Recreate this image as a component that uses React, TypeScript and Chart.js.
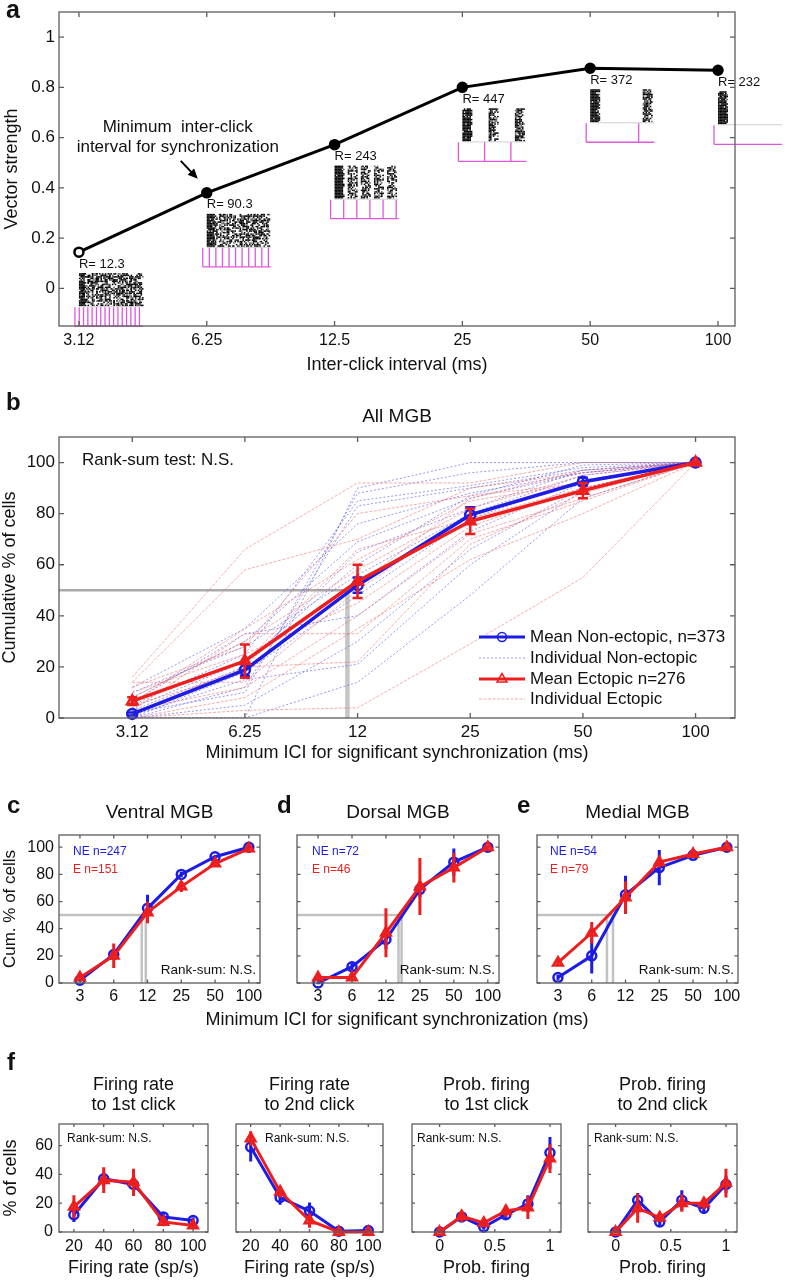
import { useEffect, useRef } from 'react';
import { Chart, registerables } from 'chart.js';

Chart.register(...registerables);

// ---------- page geometry / style ----------
const PAGE_W = 791;
const PAGE_H = 1280;
const OFF = 40;
const CW = PAGE_W + 2 * OFF;
const CH = PAGE_H + 2 * OFF;
const FF = "'Liberation Sans', Arial, Helvetica, sans-serif";
const INK = '#111';
const BLUE = 'rgb(28,28,228)';
const RED = 'rgb(236,30,30)';
const RED_FILL = 'rgba(236,30,30,0.6)';
const BLUE_THIN = 'rgba(70,70,225,0.55)';
const RED_THIN = 'rgba(240,90,90,0.5)';
const AXIS = '#5c5c5c';
const GRAY = '#c2c2c2';
const MAGENTA = 'rgb(222,88,222)';

// ---------- data: panel a ----------
const catIdx = [0, 1, 2, 3, 4, 5];
const aIciLabels = ['3.12', '6.25', '12.5', '25', '50', '100'];
const aIciMs = [3.12, 6.25, 12.5, 25, 50, 100];
const aVectorStrength = [0.144, 0.38, 0.572, 0.8, 0.876, 0.868];
const aSpikeRates = ['12.3', '90.3', '243', '447', '372', '232'];
const aYTicks = [0, 0.2, 0.4, 0.6, 0.8, 1];

// ---------- data: panel b ----------
const bIciLabels = ['3.12', '6.25', '12', '25', '50', '100'];
const bMeanNE = [1.6, 18.8, 52, 79.5, 92.5, 100];
const bSemNE = [0.6, 2.4, 3, 3, 1.5, 0.3];
const bMeanE = [6.6, 22.3, 53.5, 77, 89, 100];
const bSemE = [1.5, 6.5, 6.5, 5, 3, 0.3];
const bMedianIci = 1.91;
const bIndivNE = [
  [0, 0, 90, 100, 100, 100],
  [2, 10, 88, 96, 100, 100],
  [5, 25, 85, 91, 98, 100],
  [0, 12, 83, 90, 97, 100],
  [8, 30, 69, 86, 96, 100],
  [3, 20, 65, 82, 97, 100],
  [10, 28, 56, 80, 95, 100],
  [0, 18, 48, 78, 93, 100],
  [6, 33, 40, 73, 92, 100],
  [0, 5, 30, 66, 90, 100],
  [1, 15, 21, 60, 89, 100],
  [0, 0, 14, 48, 86, 100],
  [4, 22, 60, 87, 99, 100],
  [12, 35, 76, 88, 96, 100],
];
const bIndivE = [
  [16, 66, 92, 92, 100, 100],
  [14, 58, 70, 90, 96, 100],
  [14, 14, 50, 80, 93, 100],
  [0, 3, 4, 29, 55, 100],
  [3, 33, 33, 70, 85, 100],
  [6, 35, 62, 85, 92, 100],
  [10, 25, 45, 75, 90, 100],
  [2, 20, 22, 68, 88, 100],
  [8, 30, 58, 82, 95, 100],
  [0, 8, 35, 62, 80, 100],
  [5, 18, 52, 86, 97, 100],
  [12, 28, 80, 87, 92, 100],
  [3, 12, 40, 72, 86, 100],
  [7, 22, 66, 78, 90, 100],
];
const cumTicks = [0, 20, 40, 60, 80, 100];

// ---------- data: panels c, d, e ----------
const cdeIciLabels = ['3', '6', '12', '25', '50', '100'];
const ventralNE = [2, 21, 55, 80, 93, 100];
const ventralSemNE = [1, 3, 10, 2, 1, 1];
const ventralE = [4, 20, 52, 71, 88, 99];
const ventralSemE = [2, 9, 8, 4, 2, 1];
const ventralMedians = [1.83, 1.95];
const dorsalNE = [0, 12, 32, 69, 89, 100];
const dorsalSemNE = [1, 3, 7, 6, 10, 1];
const dorsalE = [4, 4, 37, 71, 85, 100];
const dorsalSemE = [2, 2, 18, 21, 11, 1];
const dorsalMedians = [2.37, 2.46];
const medialNE = [4, 20, 65, 85, 94, 100];
const medialSemNE = [2, 13, 14, 13, 2, 1];
const medialE = [15, 37, 63, 89, 95, 100];
const medialSemE = [2, 8, 12, 4, 2, 1];
const medialMedians = [1.45, 1.63];

// ---------- data: panel f ----------
const rateBins = [20, 40, 60, 80, 100];
const rateTicks = [20, 40, 60, 80, 100];
const probBins = [0, 0.2, 0.4, 0.6, 0.8, 1];
const probTicks = [0, 0.5, 1];
const pctTicks = [0, 20, 40, 60];
const rate1NE = [12, 37, 33, 10.5, 8];
const rate1SemNE = [5, 5, 6, 3, 2];
const rate1E = [17.5, 36, 34.5, 7, 4.5];
const rate1SemE = [8, 9, 9.5, 3, 2];
const rate2NE = [59, 24, 14.5, 0.5, 1];
const rate2SemNE = [10, 5, 6, 1, 1];
const rate2E = [65, 28, 8, 0, 0];
const rate2SemE = [5, 4, 5, 0.5, 0.5];
const prob1NE = [0, 10.5, 3.5, 12, 19.5, 55];
const prob1SemNE = [0.5, 3, 2, 3, 6, 11];
const prob1E = [0, 11, 6.3, 14.6, 17, 51];
const prob1SemE = [0.5, 4, 3, 4, 8, 10];
const prob2NE = [0, 22, 7, 22, 16.5, 33];
const prob2SemNE = [0.5, 5, 3, 7, 4, 6];
const prob2E = [0, 16.5, 10, 20, 20, 34];
const prob2SemE = [0.5, 10, 3, 6, 4, 10];

// ---------- helpers ----------
type TOpt = { align?: CanvasTextAlign; color?: string; bold?: boolean; rot?: number; base?: CanvasTextBaseline };
function text(ctx: CanvasRenderingContext2D, s: string, x: number, y: number, size: number, o: TOpt = {}) {
  ctx.save();
  ctx.font = `${o.bold ? 'bold ' : ''}${size}px ${FF}`;
  ctx.fillStyle = o.color || INK;
  ctx.textAlign = o.align || 'center';
  ctx.textBaseline = o.base || 'middle';
  ctx.translate(x, y);
  if (o.rot) ctx.rotate(o.rot);
  ctx.fillText(s, 0, 0);
  ctx.restore();
}
const ptext = (ctx: CanvasRenderingContext2D, s: string, x: number, y: number, size: number, o: TOpt = {}) =>
  text(ctx, s, x + OFF, y + OFF, size, o);

function hash3(a: number, b: number, c: number) {
  let h = Math.imul(a + 1, 374761393) ^ Math.imul(b + 7, 668265263) ^ Math.imul(c + 13, 1274126177);
  h = Math.imul(h ^ (h >>> 13), 1103515245);
  h ^= h >>> 16;
  return (h >>> 0) / 4294967296;
}

function pts(xs: number[], ys: number[]) {
  return xs.map((x, i) => ({ x, y: ys[i] }));
}

function meanSet(xs: number[], ys: number[], errs: number[], kind: 'ne' | 'e', o: { r: number; lw: number; cap: number; errW: number }) {
  const c = kind === 'ne' ? BLUE : RED;
  return {
    data: pts(xs, ys),
    borderColor: c,
    borderWidth: o.lw,
    backgroundColor: c,
    pointStyle: kind === 'ne' ? 'circle' : 'triangle',
    pointRadius: kind === 'ne' ? o.r : o.r + 1,
    pointBorderWidth: 2.5,
    pointBorderColor: c,
    pointBackgroundColor: kind === 'ne' ? 'rgba(0,0,0,0)' : RED_FILL,
    clip: false,
    errors: errs,
    errColor: c,
    errWidth: o.errW,
    errCap: o.cap,
  };
}

function lineSet(data: { x: number; y: number }[], color: string, width: number, dash: number[] = []) {
  return { data, borderColor: color, borderWidth: width, borderDash: dash, pointRadius: 0, backgroundColor: color, fill: false };
}

function medianSets(xmin: number, meds: number[], color: string, hw: number, vw: number) {
  const right = Math.max(...meds);
  return [
    lineSet([{ x: xmin, y: 50 }, { x: right, y: 50 }], color, hw),
    ...meds.map((m) => lineSet([{ x: m, y: 50 }, { x: m, y: 0 }], color, vw)),
  ];
}

const errorBarPlugin = {
  id: 'errbars',
  beforeDatasetDraw(chart: any, args: any) {
    const ds = chart.data.datasets[args.index];
    if (!ds.errors) return;
    const ys = chart.scales.y;
    const ctx = chart.ctx as CanvasRenderingContext2D;
    ctx.save();
    ctx.strokeStyle = ds.errColor;
    ctx.lineWidth = ds.errWidth;
    ctx.beginPath();
    args.meta.data.forEach((pt: any, i: number) => {
      const v = ds.data[i].y;
      const e = ds.errors[i];
      const y1 = ys.getPixelForValue(v - e);
      const y2 = ys.getPixelForValue(v + e);
      ctx.moveTo(pt.x, y1);
      ctx.lineTo(pt.x, y2);
      if (ds.errCap) {
        ctx.moveTo(pt.x - ds.errCap, y1);
        ctx.lineTo(pt.x + ds.errCap, y1);
        ctx.moveTo(pt.x - ds.errCap, y2);
        ctx.lineTo(pt.x + ds.errCap, y2);
      }
    });
    ctx.stroke();
    ctx.restore();
  },
};

function boxPlugin(tickLen: number) {
  return {
    id: 'mbox',
    afterDatasetsDraw(chart: any) {
      const { ctx, chartArea: a, scales } = chart;
      ctx.save();
      ctx.strokeStyle = AXIS;
      ctx.lineWidth = 1.3;
      ctx.strokeRect(a.left, a.top, a.right - a.left, a.bottom - a.top);
      ctx.beginPath();
      scales.x.ticks.forEach((tk: any) => {
        const x = scales.x.getPixelForValue(tk.value);
        ctx.moveTo(x, a.bottom);
        ctx.lineTo(x, a.bottom - tickLen);
        ctx.moveTo(x, a.top);
        ctx.lineTo(x, a.top + tickLen);
      });
      scales.y.ticks.forEach((tk: any) => {
        const y = scales.y.getPixelForValue(tk.value);
        ctx.moveTo(a.left, y);
        ctx.lineTo(a.left + tickLen, y);
        ctx.moveTo(a.right, y);
        ctx.lineTo(a.right - tickLen, y);
      });
      ctx.stroke();
      ctx.restore();
    },
  };
}

type AxisSpec = {
  min: number; max: number; ticks: number[]; labels?: string[]; show: boolean; font: number; pad: number;
  title?: string; titleFont?: number; titleAt?: number;
};
type PanelSpec = {
  area: [number, number, number, number];
  x: AxisSpec; y: AxisSpec; tickLen: number; datasets: any[];
  before?: (chart: any) => void;
  after?: (ctx: CanvasRenderingContext2D, chart: any) => void;
};

function panel(p: PanelSpec) {
  const [l, t, r, b] = p.area;
  const xLH = (p.x.titleFont ?? 18) * 1.2;
  const yLH = (p.y.titleFont ?? 18) * 1.2;
  const xH = p.x.title ? (p.x.titleAt as number) - b + xLH / 2 : 30;
  const yW = p.y.title ? l - (p.y.titleAt as number) + yLH / 2 : 30;
  const scale = (ax: AxisSpec, isX: boolean) => ({
    type: 'linear',
    position: isX ? 'bottom' : 'left',
    min: ax.min,
    max: ax.max,
    bounds: 'data',
    grid: { display: false, drawTicks: false, tickLength: 0 },
    border: { display: false },
    afterBuildTicks: (s: any) => {
      s.ticks = ax.ticks.map((v) => ({ value: v }));
    },
    afterFit: (s: any) => {
      if (isX) s.height = xH;
      else s.width = yW;
    },
    ticks: {
      display: ax.show,
      autoSkip: false,
      maxRotation: 0,
      minRotation: 0,
      padding: ax.pad,
      color: INK,
      font: { family: FF, size: ax.font, lineHeight: 1.2 },
      callback: (v: number, i: number) => (ax.labels ? ax.labels[i] : String(v)),
    },
    title: ax.title
      ? { display: true, text: ax.title, color: INK, padding: 0, font: { family: FF, size: ax.titleFont, lineHeight: 1.2 } }
      : { display: false },
  });
  return {
    type: 'line',
    data: { datasets: p.datasets.map((d, i) => ({ order: -i, ...d })) },
    options: {
      responsive: false,
      maintainAspectRatio: false,
      animation: false,
      devicePixelRatio: 1,
      events: [],
      layout: { padding: { left: OFF + l - yW, top: OFF + t, right: OFF + PAGE_W - r, bottom: OFF + PAGE_H - b - xH } },
      scales: { x: scale(p.x, true), y: scale(p.y, false) },
      plugins: { legend: { display: false }, tooltip: { enabled: false }, title: { display: false } },
    },
    plugins: [
      errorBarPlugin,
      boxPlugin(p.tickLen),
      {
        id: 'extra',
        beforeDatasetsDraw(chart: any) {
          if (p.before) p.before(chart);
        },
        afterDraw(chart: any) {
          if (p.after) p.after(chart.ctx, chart);
        },
      },
    ],
  };
}

// ---------- panel a ----------
function drawRaster(ctx: CanvasRenderingContext2D, px: number, py: number, ici: number, seed: number) {
  const spacing = Math.max(ici * 1.05, 4.3);
  const span = 68;
  const n = Math.floor(span / spacing) + 1;
  const x0 = px - 4;
  const top = py + 21;
  const rowH = 1.5;
  const rows = 22;
  const colW = Math.min(spacing, 9);
  const base = ici < 10 ? 0.62 : ici < 20 ? 0.72 : 0.88;
  for (let k = 0; k < n; k++) {
    const cx = x0 + k * spacing + 4;
    for (let r = 0; r < rows; r++) {
      for (let j = 0; j * 1.4 < colW; j++) {
        const d = j * 1.4;
        const x = cx + d;
        if (x > x0 + span - 1) continue;
        const onset = k === 0 && d < 8;
        const dens = onset ? 0.95 : base * (1 - d / (colW * 2.2));
        const v = hash3(seed, r * 64 + k, j);
        if (v < dens) {
          ctx.fillStyle = onset || v < dens * 0.75 ? '#000' : '#666';
          ctx.fillRect(x, top + r * rowH, 1.6, 1.5);
        }
      }
    }
  }
  ctx.fillStyle = '#cfcfcf';
  ctx.fillRect(x0 + 4, top + rows * rowH, span - 4, 1);
  ctx.save();
  ctx.strokeStyle = MAGENTA;
  ctx.lineWidth = 1.3;
  ctx.beginPath();
  const by = py + 74;
  ctx.moveTo(x0, by);
  ctx.lineTo(x0 + span, by);
  for (let k = 0; k < n; k++) {
    const cx = x0 + k * spacing;
    ctx.moveTo(cx, py + 55);
    ctx.lineTo(cx, by);
  }
  ctx.stroke();
  ctx.restore();
}

const cfgA = () =>
  panel({
    area: [59, 12, 735, 326],
    x: { min: -0.156, max: 5.133, ticks: catIdx, labels: aIciLabels, show: true, font: 16, pad: 5.4, title: 'Inter-click interval (ms)', titleFont: 18, titleAt: 365 },
    y: { min: -0.15, max: 1.1, ticks: aYTicks, labels: aYTicks.map(String), show: true, font: 17, pad: 4, title: 'Vector strength', titleFont: 18, titleAt: 12 },
    tickLen: 5,
    datasets: [
      {
        data: pts(catIdx, aVectorStrength),
        borderColor: '#000',
        borderWidth: 3,
        pointRadius: 4.5,
        pointBorderWidth: 2.5,
        pointBorderColor: '#000',
        pointBackgroundColor: catIdx.map((i) => (i === 0 ? '#fff' : '#000')),
        clip: false,
      },
    ],
    before: (chart) => {
      const ctx = chart.ctx;
      catIdx.forEach((i) => {
        const px = chart.scales.x.getPixelForValue(i);
        const py = chart.scales.y.getPixelForValue(aVectorStrength[i]);
        drawRaster(ctx, px, py, aIciMs[i], i * 17 + 3);
        text(ctx, `R= ${aSpikeRates[i]}`, px, py + 12, 13, { align: 'left' });
      });
    },
    after: (ctx, chart) => {
      ptext(ctx, 'a', 6, 18, 25, { bold: true, align: 'left', base: 'alphabetic' });
      const px = chart.scales.x.getPixelForValue(1);
      const py = chart.scales.y.getPixelForValue(aVectorStrength[1]);
      text(ctx, 'Minimum  inter-click', px - 29, py - 66, 17);
      text(ctx, 'interval for synchronization', px - 29, py - 46, 17);
      const sx = px - 26, sy = py - 32, ex = px - 9, ey = py - 14;
      ctx.save();
      ctx.strokeStyle = '#000';
      ctx.fillStyle = '#000';
      ctx.lineWidth = 2;
      ctx.beginPath();
      ctx.moveTo(sx, sy);
      ctx.lineTo(ex - 4, ey - 4.2);
      ctx.stroke();
      const ang = Math.atan2(ey - sy, ex - sx);
      ctx.beginPath();
      ctx.moveTo(ex, ey);
      ctx.lineTo(ex - 10 * Math.cos(ang) + 4.5 * Math.sin(ang), ey - 10 * Math.sin(ang) - 4.5 * Math.cos(ang));
      ctx.lineTo(ex - 10 * Math.cos(ang) - 4.5 * Math.sin(ang), ey - 10 * Math.sin(ang) + 4.5 * Math.cos(ang));
      ctx.closePath();
      ctx.fill();
      ctx.restore();
    },
  });

// ---------- panel b ----------
const cfgB = () =>
  panel({
    area: [59, 437, 735, 718],
    x: { min: -0.65, max: 5.35, ticks: catIdx, labels: bIciLabels, show: true, font: 17, pad: 3.8, title: 'Minimum ICI for significant synchronization (ms)', titleFont: 18, titleAt: 753 },
    y: { min: 0, max: 110, ticks: cumTicks, labels: cumTicks.map(String), show: true, font: 17, pad: 4, title: 'Cumulative % of cells', titleFont: 18, titleAt: 10 },
    tickLen: 5,
    datasets: [
      lineSet([{ x: -0.65, y: 50 }, { x: bMedianIci, y: 50 }], '#a9a9a9', 2.5),
      lineSet([{ x: bMedianIci, y: 50 }, { x: bMedianIci, y: 0 }], '#c6c6c6', 4.5),
      ...bIndivNE.map((row) => lineSet(pts(catIdx, row), BLUE_THIN, 1, [2, 2])),
      ...bIndivE.map((row) => lineSet(pts(catIdx, row), RED_THIN, 1, [3, 1.5])),
      meanSet(catIdx, bMeanNE, bSemNE, 'ne', { r: 5, lw: 3.5, cap: 5, errW: 2.5 }),
      meanSet(catIdx, bMeanE, bSemE, 'e', { r: 5, lw: 3.5, cap: 5, errW: 2.5 }),
    ],
    after: (ctx) => {
      ptext(ctx, 'b', 6, 410, 24, { bold: true, align: 'left', base: 'alphabetic' });
      ptext(ctx, 'All MGB', 397, 417, 19);
      ptext(ctx, 'Rank-sum test: N.S.', 82, 460, 17, { align: 'left' });
      const rows = [
        { label: 'Mean Non-ectopic, n=373', color: BLUE, lw: 3, dash: [] as number[], marker: 'circle' },
        { label: 'Individual Non-ectopic', color: BLUE_THIN, lw: 1, dash: [2, 2], marker: '' },
        { label: 'Mean Ectopic n=276', color: RED, lw: 3, dash: [] as number[], marker: 'triangle' },
        { label: 'Individual Ectopic', color: RED_THIN, lw: 1, dash: [3, 1.5], marker: '' },
      ];
      const rowY = [637, 658, 679, 699];
      rows.forEach((r, i) => {
        const y = rowY[i] + OFF;
        ctx.save();
        ctx.strokeStyle = r.color;
        ctx.lineWidth = r.lw;
        ctx.setLineDash(r.dash);
        ctx.beginPath();
        ctx.moveTo(479 + OFF, y);
        ctx.lineTo(525 + OFF, y);
        ctx.stroke();
        ctx.setLineDash([]);
        ctx.lineWidth = 1.5;
        if (r.marker === 'circle') {
          ctx.beginPath();
          ctx.arc(502 + OFF, y, 4.5, 0, Math.PI * 2);
          ctx.stroke();
        } else if (r.marker === 'triangle') {
          ctx.beginPath();
          ctx.moveTo(502 + OFF, y - 5.5);
          ctx.lineTo(497 + OFF, y + 3);
          ctx.lineTo(507 + OFF, y + 3);
          ctx.closePath();
          ctx.stroke();
        }
        ctx.restore();
        ptext(ctx, r.label, 530, rowY[i], 17, { align: 'left' });
      });
    },
  });

// ---------- panels c, d, e ----------
function regionPanel(o: {
  area: [number, number, number, number];
  ne: number[]; semNE: number[]; e: number[]; semE: number[]; medians: number[];
  title: string; letter: string; letterX: number; neLabel: string; eLabel: string; labelX: number; showY: boolean; shared?: boolean;
}) {
  const [l, , r] = o.area;
  return () =>
    panel({
      area: o.area,
      x: { min: -0.62, max: 5.33, ticks: catIdx, labels: cdeIciLabels, show: true, font: 16, pad: 4.4 },
      y: o.showY
        ? { min: 0, max: 109, ticks: cumTicks, labels: cumTicks.map(String), show: true, font: 16, pad: 5, title: 'Cum. % of cells', titleFont: 17, titleAt: 10 }
        : { min: 0, max: 109, ticks: cumTicks, show: false, font: 16, pad: 5 },
      tickLen: 3.5,
      datasets: [
        ...medianSets(-0.62, o.medians, GRAY, 2.5, 2.5),
        meanSet(catIdx, o.ne, o.semNE, 'ne', { r: 4.5, lw: 3, cap: 0, errW: 3 }),
        meanSet(catIdx, o.e, o.semE, 'e', { r: 4.5, lw: 3, cap: 0, errW: 3 }),
      ],
      after: (ctx) => {
        ptext(ctx, o.letter, o.letterX, 813, 24, { bold: true, align: 'left', base: 'alphabetic' });
        ptext(ctx, o.title, (l + r) / 2, 813, 19);
        ptext(ctx, o.neLabel, o.labelX, 852, 12, { align: 'left', color: BLUE });
        ptext(ctx, o.eLabel, o.labelX, 870, 12, { align: 'left', color: RED });
        ptext(ctx, 'Rank-sum: N.S.', r - 4, 970, 13.5, { align: 'right' });
        if (o.shared) ptext(ctx, 'Minimum ICI for significant synchronization (ms)', 397, 1020, 18);
      },
    });
}

const cfgC = regionPanel({
  area: [59, 835, 260, 983], ne: ventralNE, semNE: ventralSemNE, e: ventralE, semE: ventralSemE, medians: ventralMedians,
  title: 'Ventral MGB', letter: 'c', letterX: 7, neLabel: 'NE n=247', eLabel: 'E n=151', labelX: 73, showY: true,
});
const cfgD = regionPanel({
  area: [297, 835, 499, 983], ne: dorsalNE, semNE: dorsalSemNE, e: dorsalE, semE: dorsalSemE, medians: dorsalMedians,
  title: 'Dorsal MGB', letter: 'd', letterX: 277, neLabel: 'NE n=72', eLabel: 'E n=46', labelX: 312, showY: false, shared: true,
});
const cfgE = regionPanel({
  area: [537, 835, 738, 983], ne: medialNE, semNE: medialSemNE, e: medialE, semE: medialSemE, medians: medialMedians,
  title: 'Medial MGB', letter: 'e', letterX: 517, neLabel: 'NE n=54', eLabel: 'E n=79', labelX: 550, showY: false,
});

// ---------- panel f ----------
function fPanel(o: {
  area: [number, number, number, number]; prob: boolean;
  ne: number[]; semNE: number[]; e: number[]; semE: number[];
  title1: string; title2: string; rankX: number; showY: boolean; letter?: boolean;
}) {
  const [l, , r] = o.area;
  const xs = o.prob ? probBins : rateBins;
  const xAxis: AxisSpec = o.prob
    ? { min: -0.25, max: 1.1, ticks: probTicks, labels: ['0', '0.5', '1'], show: true, font: 16, pad: 5.4, title: 'Prob. firing', titleFont: 18, titleAt: 1268 }
    : { min: 10, max: 110, ticks: rateTicks, labels: rateTicks.map(String), show: true, font: 16, pad: 5.4, title: 'Firing rate (sp/s)', titleFont: 18, titleAt: 1268 };
  return () =>
    panel({
      area: o.area,
      x: xAxis,
      y: o.showY
        ? { min: 0, max: 75, ticks: pctTicks, labels: pctTicks.map(String), show: true, font: 16, pad: 6, title: '% of cells', titleFont: 18, titleAt: 11 }
        : { min: 0, max: 75, ticks: pctTicks, show: false, font: 16, pad: 6 },
      tickLen: 3,
      datasets: [
        meanSet(xs, o.ne, o.semNE, 'ne', { r: 4.5, lw: 3, cap: 0, errW: 3 }),
        meanSet(xs, o.e, o.semE, 'e', { r: 4.5, lw: 3, cap: 0, errW: 3 }),
      ],
      after: (ctx) => {
        if (o.letter) ptext(ctx, 'f', 7, 1070, 24, { bold: true, align: 'left', base: 'alphabetic' });
        ptext(ctx, o.title1, (l + r) / 2, 1085, 18);
        ptext(ctx, o.title2, (l + r) / 2, 1105, 18);
        ptext(ctx, 'Rank-sum: N.S.', o.rankX, 1139, 12, { align: 'left' });
      },
    });
}

const cfgF1 = fPanel({ area: [59, 1124, 208, 1232], prob: false, ne: rate1NE, semNE: rate1SemNE, e: rate1E, semE: rate1SemE, title1: 'Firing rate', title2: 'to 1st click', rankX: 67, showY: true, letter: true });
const cfgF2 = fPanel({ area: [236, 1124, 383, 1232], prob: false, ne: rate2NE, semNE: rate2SemNE, e: rate2E, semE: rate2SemE, title1: 'Firing rate', title2: 'to 2nd click', rankX: 265, showY: false });
const cfgF3 = fPanel({ area: [412, 1124, 561, 1232], prob: true, ne: prob1NE, semNE: prob1SemNE, e: prob1E, semE: prob1SemE, title1: 'Prob. firing', title2: 'to 1st click', rankX: 417, showY: false });
const cfgF4 = fPanel({ area: [588, 1124, 737, 1232], prob: true, ne: prob2NE, semNE: prob2SemNE, e: prob2E, semE: prob2SemE, title1: 'Prob. firing', title2: 'to 2nd click', rankX: 594, showY: false });

const configs = [cfgA, cfgB, cfgC, cfgD, cfgE, cfgF1, cfgF2, cfgF3, cfgF4];

function ChartCanvas({ make }: { make: () => any }) {
  const ref = useRef<HTMLCanvasElement>(null);
  useEffect(() => {
    const chart = new Chart(ref.current as HTMLCanvasElement, make());
    return () => chart.destroy();
  }, [make]);
  return (
    <canvas
      ref={ref}
      width={CW}
      height={CH}
      style={{ position: 'absolute', left: -OFF, top: -OFF, width: CW, height: CH }}
    />
  );
}

export default function App() {
  return (
    <div
      style={{
        position: 'absolute',
        left: 0,
        top: 0,
        width: PAGE_W,
        height: PAGE_H,
        overflow: 'hidden',
        background: '#fff',
      }}
    >
      {configs.map((make, i) => (
        <ChartCanvas key={i} make={make} />
      ))}
    </div>
  );
}
